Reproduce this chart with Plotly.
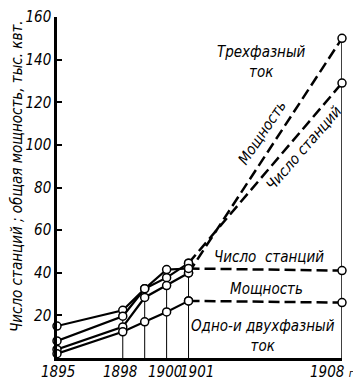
import plotly.graph_objects as go

# ---- data ----
years_solid = [1895, 1898, 1899, 1900, 1901]
count_12 = [15, 22.4, 32.5, 41.5, 42]        # одно- и двухфазный: число станций
line_b = [8, 19.6, 32.5, 37.7, 44.5]          # трехфазный: число станций
line_c = [4, 14.6, 28.4, 34.0, 39.9]          # трехфазный: мощность
power_12 = [2, 12.3, 17, 21.6, 26.8]          # одно- и двухфазный: мощность

years_dash = [1901, 1908]
three_power = [39.9, 150]
three_count = [44.5, 129]
one_two_count = [42, 41]
one_two_power = [26.8, 26]

x_ticks = [1895, 1898, 1900, 1901, 1908]
x_tick_text = ["1895", "1898", "1900", "1901", "1908 <span style='font-size:11px'>г</span>"]
y_ticks = [20, 40, 60, 80, 100, 120, 140, 160]

FONT = "Liberation Sans Narrow, DejaVu Sans Condensed, Arial Narrow, sans-serif"

fig = go.Figure()

marker = dict(symbol="circle", size=8, color="white", line=dict(color="black", width=1.5))

for ys in [count_12, line_b, line_c, power_12]:
    fig.add_trace(go.Scatter(x=years_solid, y=ys, mode="lines+markers",
                             line=dict(color="black", width=2.2), marker=marker,
                             cliponaxis=False, showlegend=False))

for ys in [three_power, three_count, one_two_count, one_two_power]:
    fig.add_trace(go.Scatter(x=years_dash, y=ys, mode="lines+markers",
                             line=dict(color="black", width=2.5, dash="11px,5px"),
                             marker=marker, cliponaxis=False, showlegend=False))

# vertical drop lines
all_series = [count_12, line_b, line_c, power_12]
shapes = []
for i, yr in enumerate(years_solid[1:], start=1):
    top = max(s[i] for s in all_series)
    shapes.append(dict(type="line", xref="x", yref="y", x0=yr, x1=yr, y0=0, y1=top,
                       line=dict(color="black", width=1), layer="below"))
top08 = max(three_power[-1], three_count[-1])
shapes.append(dict(type="line", xref="x", yref="y", x0=1908, x1=1908, y0=0, y1=top08,
                   line=dict(color="black", width=1.5), layer="below"))

annotations = []
for v, t in zip(x_ticks, x_tick_text):
    shift = {1895: 1, 1898: -3, 1900: -2, 1901: 8, 1908: -10}[v]
    annotations.append(dict(x=v, y=0, xref="x", yref="y", text=t, showarrow=False,
                            xanchor="center", yanchor="top", yshift=-3, xshift=shift,
                            font=dict(family=FONT, size=15, color="black", style="italic")))

txt = dict(family=FONT, size=15, color="black", style="italic")


def lab(px, py, text, angle=0, font=txt):
    return dict(xref="paper", yref="paper", x=(px - 57) / 285, y=(358 - py) / 341,
                text=text, showarrow=False, font=font, textangle=angle,
                xanchor="center", yanchor="middle", align="center")


annotations += [
    lab(261, 62, "Трехфазный<br>ток"),
    lab(262, 133, "Мощность", -56),
    lab(304, 148, "Число станций", -49),
    lab(269, 257, "Число  станций"),
    lab(266, 289, "Мощность"),
    lab(263, 336, "Одно-и двухфазный<br>ток"),
    lab(17, 176, "Число станций ; общая мощность, тыс. квт.", -90,
        dict(family=FONT, size=15, color="black", style="italic")),
]

# the page body adds an 8px offset; size/margins compensate for it
fig.update_layout(
    width=353, height=379,
    margin=dict(l=49, r=19, t=9, b=29, autoexpand=False),
    paper_bgcolor="white", plot_bgcolor="white",
    shapes=shapes, annotations=annotations,
    xaxis=dict(range=[1895, 1908], showgrid=False, zeroline=False, showline=True,
               linecolor="black", linewidth=2.5, showticklabels=False, ticks="",
               automargin=False),
    yaxis=dict(range=[0, 160], showgrid=False, zeroline=False, showline=True,
               linecolor="black", linewidth=2.5, tickvals=y_ticks, ticks="inside",
               ticklen=5, tickwidth=1.5, tickcolor="black", automargin=False,
               ticklabeloverflow="allow",
               tickfont=dict(family=FONT, size=15, color="black", style="italic")),
)

fig.write_html("out.html")
